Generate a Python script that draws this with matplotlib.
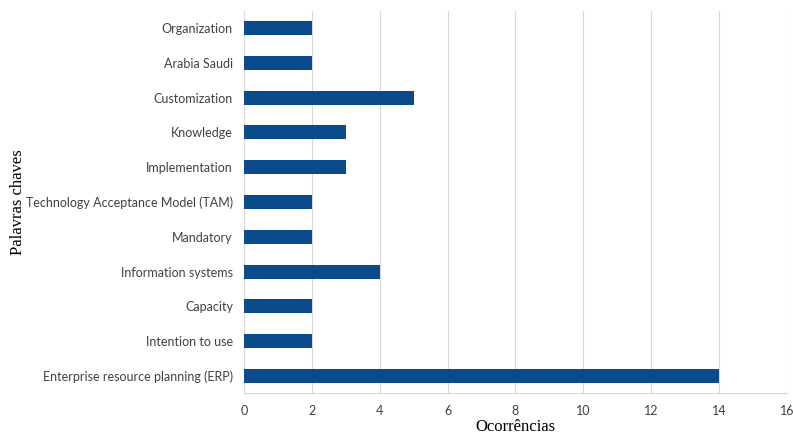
import matplotlib
matplotlib.use("Agg")
import matplotlib.pyplot as plt

keywords = [
    "Enterprise resource planning (ERP)",
    "Intention to use",
    "Capacity",
    "Information systems",
    "Mandatory",
    "Technology Acceptance Model (TAM)",
    "Implementation",
    "Knowledge",
    "Customization",
    "Arabia Saudi",
    "Organization",
]
occurrences = [14, 2, 2, 4, 2, 2, 3, 3, 5, 2, 2]
x_ticks = [0, 2, 4, 6, 8, 10, 12, 14, 16]

fig = plt.figure(figsize=(7.93, 4.38), dpi=100)
ax = fig.add_axes([0.3077, 0.1016, 0.6847, 0.8744])

ax.barh(keywords, occurrences, height=0.4, color="#0b4a8b", zorder=3)
ax.set_xlim(0, 16)
ax.set_ylim(-0.5, len(keywords) - 0.5)
ax.set_xticks(x_ticks)
ax.grid(axis="x", color="#d9d9d9", linewidth=0.8, zorder=0)

for side in ["top", "right"]:
    ax.spines[side].set_visible(False)
for side in ["left", "bottom"]:
    ax.spines[side].set_color("#d9d9d9")
ax.tick_params(length=0, pad=8, colors="#404040")
for lbl in ax.get_xticklabels() + ax.get_yticklabels():
    lbl.set_fontfamily("Lato")
    lbl.set_fontsize(9)

ax.set_xlabel("Ocorrências", family="Liberation Serif", fontsize=12, labelpad=2)
ax.set_ylabel("Palavras chaves", family="Liberation Serif", fontsize=12, labelpad=0)

fig.savefig("out.png", dpi=100)
